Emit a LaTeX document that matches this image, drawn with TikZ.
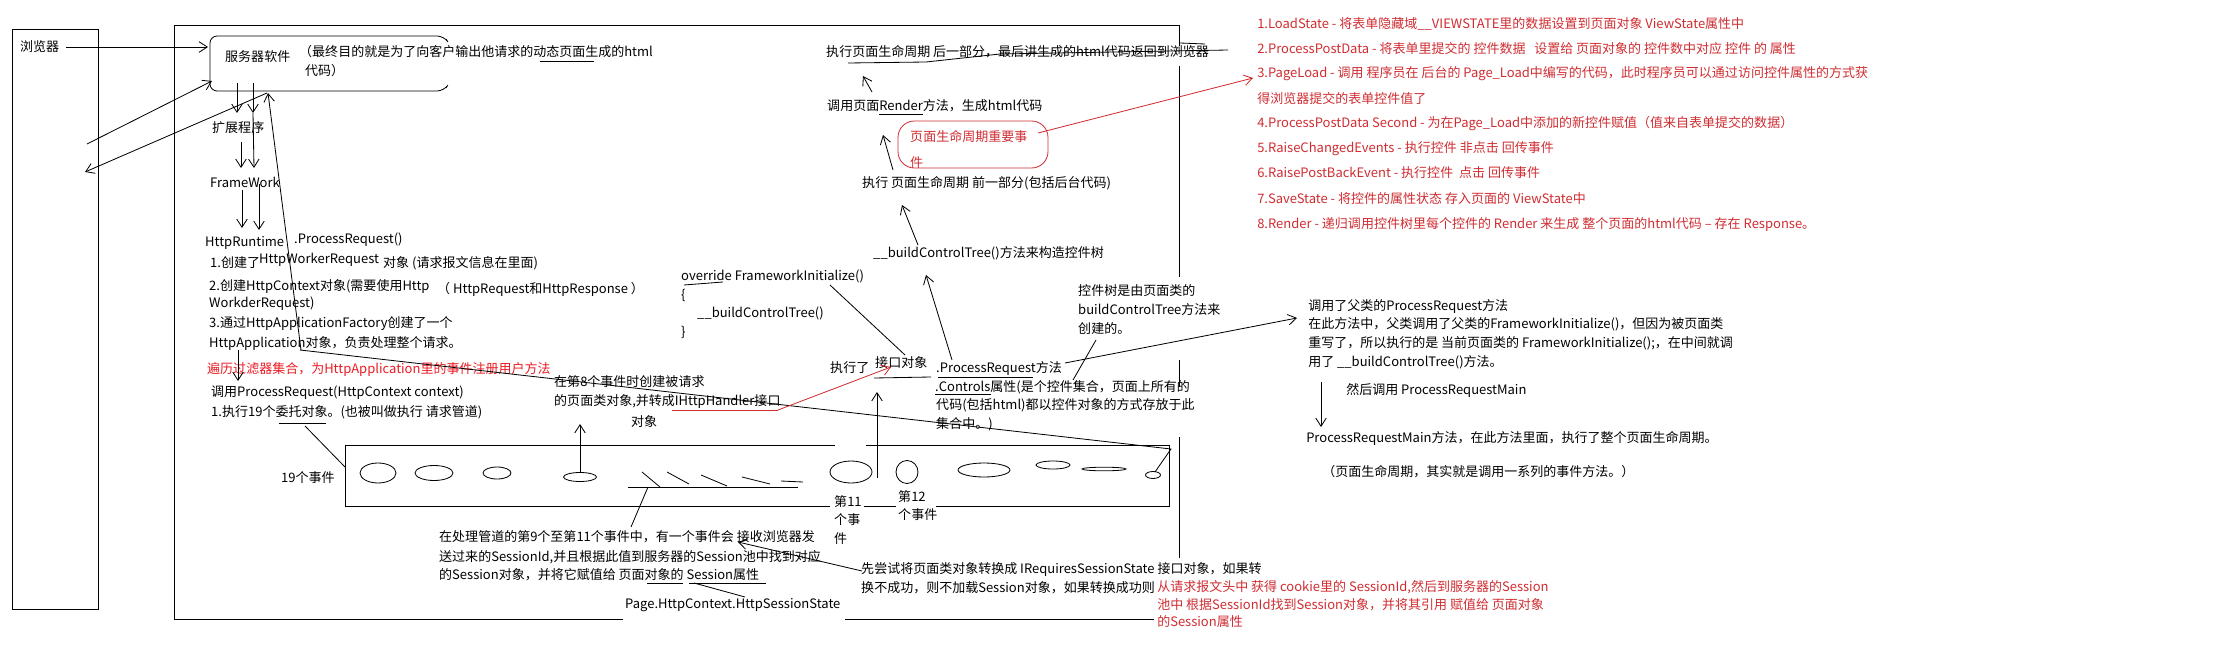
\documentclass[tikz,border=0pt]{standalone}
\usepackage{fontspec}
\setmainfont{Noto Sans CJK SC}
\usetikzlibrary{arrows.meta}
\definecolor{redc}{RGB}{208,45,50}
\definecolor{redb}{RGB}{236,28,36}
\newcommand\fs{\fontsize{11.1pt}{13pt}\selectfont}
\tikzset{
  txt/.style={anchor=west, inner sep=0pt, font=\fs, text=black},
  rtxt/.style={txt, text=redc},
  btxt/.style={txt, text=redb},
  ln/.style={draw=black, line width=0.7pt},
  arr/.style={ln, -{Straight Barb[length=7pt,width=9pt]}},
  rln/.style={draw=redc, line width=0.7pt},
  rarr/.style={rln, -{Straight Barb[length=7pt,width=9pt]}},
}
\begin{document}
\begin{tikzpicture}[x=0.03cm,y=-0.03cm]
\fill[white] (0,0) rectangle (2218,649);
\useasboundingbox (0,0) rectangle (2218,649);

% ---------- frames ----------
\draw[ln] (12,29) rectangle (98,609);
\draw[ln] (1179,46) -- (1179,25) -- (174,25) -- (174,619) -- (623,619);
\draw[ln] (845,619) -- (1154,619);
\draw[ln] (1179,66) -- (1179,277);
\draw[ln] (1179,360) -- (1179,387);
\draw[ln] (1179,437) -- (1179,558);
% server box
\draw[ln, rounded corners=6] (446,39) -- (444,36) -- (210,36) -- (210,91) -- (444,91) -- (446,88);
% pipeline box
\draw[ln] (835,445) -- (345,445) -- (345,506) -- (830,506);
\draw[ln] (866,445) -- (1169,445) -- (1169,506) -- (936,506);
\draw[ln] (864,506) -- (896,506);
% red rounded box
\draw[rln, rounded corners=14] (898,121) rectangle (1048,168);

% ---------- texts ----------
\node[txt] (browser) at (20,47) {浏览器};
\node[txt] (server) at (225,57) {服务器软件};
\node[txt] (goal1) at (299,52) {（最终目的就是为了向客户输出他请求的动态页面生成的html};
\node[txt] (goal2) at (305,71) {代码）};
\node[txt] (ext) at (212,128) {扩展程序};
\node[txt] (fw) at (210,182) {FrameWork};
\node[txt] (rt) at (205,243) {HttpRuntime};
\node[txt] (pr) at (294,240) {.ProcessRequest()};
\node[txt] (c1a) at (210,263) {1.创建了};
\node[txt] (c1b) at (259,260) {HttpWorkerRequest};
\node[txt] (c1c) at (383,263) {对象 (请求报文信息在里面)};
\node[txt] (c2a) at (209,286) {2.创建HttpContext对象(需要使用Http};
\node[txt] (c2b) at (437,289) {（ HttpRequest和HttpResponse ）};
\node[txt] (c2c) at (209,304) {WorkderRequest)};
\node[txt] (c3a) at (209,324) {3.通过HttpApplicationFactory创建了一个};
\node[txt] (c3b) at (209,343) {HttpApplication对象，负责处理整个请求。};
\node[btxt] (filt) at (207,369) {遍历过滤器集合，为HttpApplication里的事件注册用户方法};
\node[txt] (call1) at (211,393) {调用ProcessRequest(HttpContext context)};
\node[txt] (call2) at (211,412) {1.执行19个委托对象。(也被叫做执行 请求管道)};
\node[txt] (ev19) at (281,478) {19个事件};
\node[txt] (e8a) at (554,382) {在第8个事件时创建被请求};
\node[txt] (e8b) at (554,401) {的页面类对象,并转成IHttpHandler接口};
\node[txt] (e8c) at (631,422) {对象};
\node[txt] (ov1) at (681,276) {override FrameworkInitialize()};
\node[txt] (ov2) at (681,295) {\{};
\node[txt] (ov3) at (697,313) {\_\_buildControlTree()};
\node[txt] (ov4) at (681,332) {\}};
\node[txt] (exe) at (830,368) {执行了};
\node[txt] (iobj) at (875,363) {接口对象};
\node[txt] (pm1) at (936,368) {.ProcessRequest方法};
\node[txt] (pm2) at (935,387) {.Controls属性(是个控件集合，页面上所有的};
\node[txt] (pm3) at (936,405) {代码(包括html)都以控件对象的方式存放于此};
\node[txt] (pm4) at (936,424) {集合中。)};
\node[txt] (ct1) at (1078,291) {控件树是由页面类的};
\node[txt] (ct2) at (1078,310) {buildControlTree方法来};
\node[txt] (ct3) at (1078,329) {创建的。};
\node[txt] (bct) at (873,253) {\_\_buildControlTree()方法来构造控件树};
\node[txt] (pre) at (862,183) {执行 页面生命周期 前一部分(包括后台代码)};
\node[rtxt] (imp1) at (910,137) {页面生命周期重要事};
\node[rtxt] (imp2) at (910,163) {件};
\node[txt] (rend) at (827,106) {调用页面Render方法，生成html代码};
\node[txt] (post) at (826,52) {执行页面生命周期 后一部分，最后讲生成的html代码返回到浏览器};

\node[rtxt] (l1) at (1257,24) {1.LoadState - 将表单隐藏域\_\_VIEWSTATE里的数据设置到页面对象 ViewState属性中};
\node[rtxt] (l2) at (1257,49) {2.ProcessPostData - 将表单里提交的 控件数据 \ \ 设置给 页面对象的 控件数中对应 控件 的 属性};
\node[rtxt] (l3) at (1257,74) {3.PageLoad - 调用 程序员在 后台的 Page\_Load中编写的代码，此时程序员可以通过访问控件属性的方式获};
\node[rtxt] (l3b) at (1257,99) {得浏览器提交的表单控件值了};
\node[rtxt] (l4) at (1257,124) {4.ProcessPostData Second - 为在Page\_Load中添加的新控件赋值（值来自表单提交的数据）};
\node[rtxt] (l5) at (1257,149) {5.RaiseChangedEvents - 执行控件 非点击 回传事件};
\node[rtxt] (l6) at (1257,173) {6.RaisePostBackEvent - 执行控件 \ 点击 回传事件};
\node[rtxt] (l7) at (1257,199) {7.SaveState - 将控件的属性状态 存入页面的 ViewState中};
\node[rtxt] (l8) at (1257,224) {8.Render - 递归调用控件树里每个控件的 Render 来生成 整个页面的html代码 -- 存在 Response。};

\node[txt] (par1) at (1308,306) {调用了父类的ProcessRequest方法};
\node[txt] (par2) at (1308,324) {在此方法中，父类调用了父类的FrameworkInitialize()，但因为被页面类};
\node[txt] (par3) at (1308,343) {重写了，所以执行的是 当前页面类的 FrameworkInitialize();，在中间就调};
\node[txt] (par4) at (1308,362) {用了 \_\_buildControlTree()方法。};
\node[txt] (then) at (1346,390) {然后调用 ProcessRequestMain};
\node[txt] (prm) at (1306,438) {ProcessRequestMain方法，在此方法里面，执行了整个页面生命周期。};
\node[txt] (plc) at (1322,472) {（页面生命周期，其实就是调用一系列的事件方法。）};

\node[txt] (s1) at (439,537) {在处理管道的第9个至第11个事件中，有一个事件会 接收浏览器发};
\node[txt] (s2) at (439,557) {送过来的SessionId,并且根据此值到服务器的Session池中找到对应};
\node[txt] (s3) at (439,575) {的Session对象，并将它赋值给 页面对象的 Session属性};
\node[txt] (hss) at (625,605) {Page.HttpContext.HttpSessionState};
\node[txt] (tr1) at (861,569) {先尝试将页面类对象转换成 IRequiresSessionState 接口对象，如果转};
\node[txt] (tr2) at (861,588) {换不成功，则不加载Session对象，如果转换成功则};
\node[rtxt] (ck1) at (1157,587) {从请求报文头中 获得 cookie里的 SessionId,然后到服务器的Session};
\node[rtxt] (ck2) at (1157,605) {池中 根据SessionId找到Session对象，并将其引用 赋值给 页面对象};
\node[rtxt] (ck3) at (1157,622) {的Session属性};
\node[txt] (n11a) at (834,502) {第11};
\node[txt] (n11b) at (834,520) {个事};
\node[txt] (n11c) at (834,539) {件};
\node[txt] (n12a) at (898,497) {第12};
\node[txt] (n12b) at (898,515) {个事件};

% ---------- pipeline events ----------
\draw[ln] (378,473) ellipse [x radius=18, y radius=10];
\draw[ln] (434,473) ellipse [x radius=19, y radius=7.5];
\draw[ln] (497,473) ellipse [x radius=14, y radius=6];
\draw[ln] (580,477) ellipse [x radius=16.5, y radius=4.5];
\draw[ln] (851,472) ellipse [x radius=21, y radius=11];
\draw[ln] (907,472) ellipse [x radius=11, y radius=11.5];
\draw[ln] (984,470) ellipse [x radius=26, y radius=7];
\draw[ln] (1053,465) ellipse [x radius=17, y radius=4];
\draw[ln] (1104,469) ellipse [x radius=22, y radius=1.8];
\draw[ln] (1153,475) ellipse [x radius=7.5, y radius=3.5];
\draw[ln] (642,472) -- (660,487);
\draw[ln] (667,472) -- (689,484);
\draw[ln] (701,475) -- (727,486);
\draw[ln] (742,477) -- (770,484);
\draw[ln] (781,481) -- (803,482);
\draw[ln] (628,487) -- (798,487);

% ---------- coordinates ----------
\coordinate (brA) at (66,47);   \coordinate (srvA) at (208,47);
\coordinate (brB) at (87,144);  \coordinate (srvB) at (212,81);
\coordinate (srvC) at (267,93); \coordinate (brC) at (85,172);
\coordinate (sv1) at (237,83);  \coordinate (ex1) at (237,113);
\coordinate (sv2) at (253,83);  \coordinate (ex2) at (253,113);
\coordinate (ex3) at (241,142); \coordinate (fw1) at (241,168);
\coordinate (fw2) at (254,168);
\coordinate (fw3) at (242,190); \coordinate (rt1) at (242,228);
\coordinate (fw4) at (259,184); \coordinate (rt2) at (259,230);
\coordinate (appA) at (301,350); \coordinate (srvD) at (268,93);
\coordinate (appB) at (238,350); \coordinate (callT) at (238,381);
\coordinate (dgA) at (279,423); \coordinate (dgB) at (326,423);
\coordinate (dgC) at (305,426); \coordinate (pipeL) at (345,467);
\coordinate (appC) at (300,350); \coordinate (pipeTR) at (1171,449); \coordinate (ev19e) at (1155,472);
\coordinate (e4a) at (580,473); \coordinate (e4b) at (580,424);
\coordinate (e11a) at (877,478); \coordinate (e11b) at (877,392);
\coordinate (tkA) at (648,487); \coordinate (tkB) at (631,527);
\coordinate (ru1) at (672,410); \coordinate (ru2) at (778,410); \coordinate (ru3) at (891,367);
\coordinate (ovu1) at (684,285); \coordinate (ovu2) at (723,282);
\coordinate (ovA) at (830,285); \coordinate (ovB) at (905,355);
\coordinate (iu1) at (874,378); \coordinate (iu2) at (931,377);
\coordinate (pu1) at (938,377); \coordinate (pu2) at (1033,377);
\coordinate (cu1) at (935,394); \coordinate (cu2) at (991,394);
\coordinate (ctA) at (1096,340); \coordinate (ctB) at (1073,380);
\coordinate (pmA) at (952,360); \coordinate (bctB) at (926,275);
\coordinate (bctA) at (918,245); \coordinate (preB) at (902,205);
\coordinate (preA) at (893,170); \coordinate (rndB) at (883,135);
\coordinate (rndA) at (872,92);  \coordinate (postB) at (863,76);
\coordinate (rnu1) at (879,114); \coordinate (rnu2) at (923,114);
\coordinate (impA) at (1038,133); \coordinate (l3tip) at (1253,78);
\coordinate (st1) at (848,63); \coordinate (st2) at (926,62); \coordinate (st3) at (1000,54); \coordinate (st4) at (1228,50);
\coordinate (st5) at (1180,43); \coordinate (st6) at (1205,44);
\coordinate (gu1) at (540,61); \coordinate (gu2) at (594,61);
\coordinate (pmR) at (1065,363); \coordinate (parT) at (1297,318);
\coordinate (thA) at (1321,382); \coordinate (thB) at (1321,427);
\coordinate (su1) at (647,583); \coordinate (su2) at (683,583);
\coordinate (su3) at (689,583); \coordinate (su4) at (766,583);
\coordinate (suA) at (694,583); \coordinate (hssT) at (745,597);
\coordinate (trA) at (862,571); \coordinate (hui) at (738,542);

% ---------- connectors ----------
\draw[arr] (brA) -- (srvA);
\draw[arr] (brB) -- (srvB);
\draw[arr] (srvC) -- (brC);
\draw[arr] (sv1) -- (ex1);
\draw[arr] (sv2) -- (ex2);
\draw[arr] (ex3) -- (fw1);
\draw[arr] (ex2) -- (fw2);
\draw[arr] (fw3) -- (rt1);
\draw[arr] (fw4) -- (rt2);
\draw[arr] (appA) -- (srvD);
\draw[arr] (appB) -- (callT);
\draw[ln] (dgA) -- (dgB);
\draw[ln] (dgC) -- (pipeL);
\draw[ln] (appC) -- (pipeTR) -- (ev19e);
\draw[arr] (e4a) -- (e4b);
\draw[arr] (e11a) -- (e11b);
\draw[ln] (tkA) -- (tkB);
\draw[rln] (ru1) -- (ru2);
\draw[rarr] (ru2) -- (ru3);
\draw[ln] (ovu1) -- (ovu2);
\draw[ln] (ovA) -- (ovB);
\draw[ln] (iu1) -- (iu2);
\draw[ln] (pu1) -- (pu2);
\draw[ln] (cu1) -- (cu2);
\draw[ln] (ctA) -- (ctB);
\draw[arr] (pmA) -- (bctB);
\draw[arr] (bctA) -- (preB);
\draw[arr] (preA) -- (rndB);
\draw[arr] (rndA) -- (postB);
\draw[ln] (rnu1) -- (rnu2);
\draw[rarr] (impA) -- (l3tip);
\draw[ln] (st1) -- (st2) -- (st3) -- (st4);
\draw[ln] (st5) -- (st6);
\draw[ln] (gu1) -- (gu2);
\draw[arr] (pmR) -- (parT);
\draw[arr] (thA) -- (thB);
\draw[ln] (su1) -- (su2);
\draw[ln] (su3) -- (su4);
\draw[ln] (suA) -- (hssT);
\draw[arr] (trA) -- (hui);
\end{tikzpicture}
\end{document}
